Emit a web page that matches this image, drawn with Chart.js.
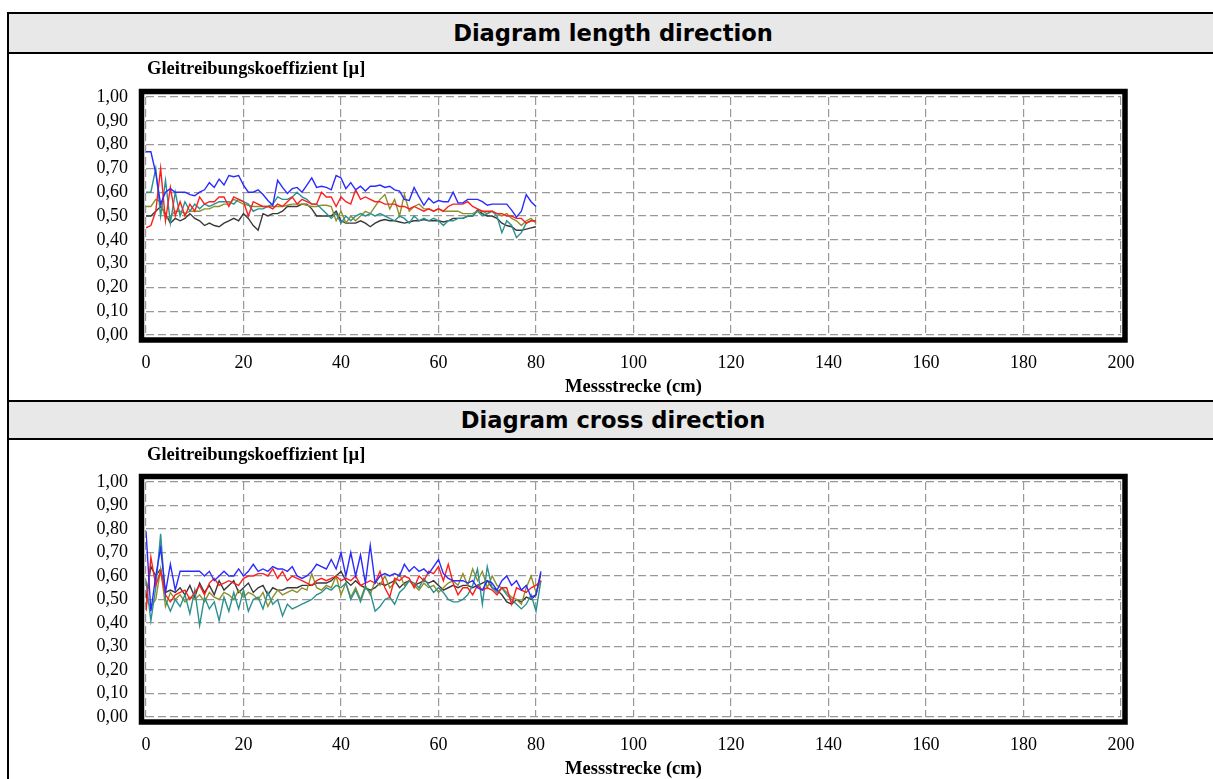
<!DOCTYPE html>
<html>
<head>
<meta charset="utf-8">
<script src="https://cdn.jsdelivr.net/npm/chart.js@4.4.0/dist/chart.umd.min.js"></script>
<style>
  body { margin: 0; width: 1213px; height: 779px; overflow: hidden; background: #fff; position: relative; }
  .kopf { position: absolute; left: 7px; width: 1240px; background: #e8e8e8; border: 2px solid #000; border-right: none; box-sizing: border-box;
          font-family: "DejaVu Sans", sans-serif; font-weight: bold; font-size: 22.6px; color: #000; }
  .kopf span { position: absolute; left: 0; top: 0; width: 1208px; text-align: center; }
  .seite { position: absolute; left: 7px; width: 0; border-left: 2px solid #000; }
  canvas { position: absolute; left: 9px; }
</style>
</head>
<body>

<div class="kopf" style="top:12px; height:42px;"><span style="line-height:38px;">Diagram length direction</span></div>
<div class="seite" style="top:54px; height:346px;"></div>
<canvas id="laenge" width="1204" height="346" style="top:54px;"></canvas>

<div class="kopf" style="top:400px; height:40px;"><span style="line-height:36px;">Diagram cross direction</span></div>
<div class="seite" style="top:440px; height:339px;"></div>
<canvas id="quer" width="1204" height="342" style="top:440px;"></canvas>

<script>
// ---- ACHSEN ----
const xTicks = [0, 20, 40, 60, 80, 100, 120, 140, 160, 180, 200]
const xTickLabels = ['0', '20', '40', '60', '80', '100', '120', '140', '160', '180', '200']
const yTicks = [0, 0.1, 0.2, 0.3, 0.4, 0.5, 0.6, 0.7, 0.8, 0.9, 1.0]
const yTickLabels = ['0,00', '0,10', '0,20', '0,30', '0,40', '0,50', '0,60', '0,70', '0,80', '0,90', '1,00']

// ---- MESSPUNKTE (cm) ----
const laengeX = [0,1,2,3,4,5,6,7,8,9,10,11,12,13,14,15,16,17,18,19,20,21,22,23,24,25,26,27,28,29,30,31,32,33,34,35,36,37,38,39,40,
  41,42,43,44,45,46,47,48,49,50,51,52,53,54,55,56,57,58,59,60,61,62,63,64,65,66,67,68,69,70,71,72,73,74,75,76,77,78,79,80]
const querX = [0,1,2,3,4,5,6,7,8,9,10,11,12,13,14,15,16,17,18,19,20,21,22,23,24,25,26,27,28,29,30,31,32,33,34,35,36,37,38,39,40,
  41,42,43,44,45,46,47,48,49,50,51,52,53,54,55,56,57,58,59,60,61,62,63,64,65,66,67,68,69,70,71,72,73,74,75,76,77,78,79,80,81]

// ---- LÄNGSRICHTUNG ----
const laengeBlau = [0.77,0.77,0.68,0.55,0.60,0.615,0.60,0.60,0.60,0.59,
  0.585,0.60,0.61,0.64,0.62,0.655,0.63,0.67,0.665,0.67,
  0.63,0.60,0.60,0.61,0.59,0.565,0.545,0.65,0.62,0.595,
  0.615,0.62,0.60,0.63,0.66,0.62,0.625,0.62,0.61,0.67,
  0.66,0.615,0.64,0.61,0.625,0.605,0.625,0.625,0.63,0.62,
  0.625,0.61,0.605,0.57,0.565,0.62,0.58,0.545,0.575,0.555,
  0.565,0.56,0.56,0.60,0.555,0.555,0.57,0.57,0.57,0.56,
  0.545,0.55,0.55,0.55,0.55,0.525,0.495,0.52,0.59,0.56,
  0.54]
const laengeRot = [0.45,0.46,0.52,0.70,0.48,0.62,0.50,0.56,0.50,0.55,
  0.52,0.58,0.55,0.56,0.56,0.58,0.58,0.54,0.58,0.57,
  0.56,0.50,0.56,0.55,0.54,0.54,0.53,0.55,0.54,0.56,
  0.58,0.55,0.57,0.56,0.55,0.55,0.60,0.58,0.58,0.54,
  0.58,0.56,0.55,0.61,0.57,0.58,0.57,0.56,0.56,0.55,
  0.55,0.55,0.54,0.54,0.53,0.54,0.53,0.52,0.53,0.52,
  0.53,0.52,0.54,0.55,0.55,0.55,0.56,0.54,0.53,0.52,
  0.52,0.52,0.51,0.51,0.50,0.50,0.49,0.49,0.47,0.48,
  0.48]
const laengeTuerkis = [0.60,0.60,0.70,0.50,0.65,0.47,0.60,0.50,0.56,0.52,
  0.55,0.53,0.55,0.54,0.55,0.56,0.56,0.56,0.55,0.57,
  0.56,0.55,0.52,0.53,0.53,0.54,0.55,0.58,0.57,0.57,
  0.58,0.60,0.58,0.57,0.55,0.55,0.53,0.51,0.49,0.51,
  0.47,0.50,0.48,0.50,0.51,0.50,0.51,0.50,0.51,0.50,
  0.49,0.48,0.50,0.49,0.47,0.50,0.48,0.49,0.48,0.49,
  0.48,0.46,0.48,0.48,0.49,0.49,0.50,0.50,0.52,0.50,
  0.51,0.52,0.50,0.43,0.48,0.46,0.41,0.43,0.47,0.48,
  0.48]
const laengeOliv = [0.54,0.54,0.57,0.56,0.49,0.50,0.52,0.52,0.51,0.52,
  0.52,0.52,0.53,0.53,0.54,0.54,0.55,0.55,0.57,0.56,
  0.55,0.545,0.54,0.54,0.54,0.54,0.54,0.54,0.54,0.545,
  0.55,0.55,0.55,0.545,0.54,0.54,0.545,0.545,0.54,0.48,
  0.52,0.47,0.50,0.48,0.50,0.52,0.51,0.54,0.57,0.59,
  0.53,0.57,0.50,0.59,0.52,0.54,0.55,0.53,0.53,0.52,
  0.53,0.52,0.52,0.52,0.52,0.51,0.51,0.51,0.52,0.52,
  0.51,0.52,0.51,0.50,0.51,0.49,0.48,0.46,0.48,0.49,
  0.47]
const laengeSchwarz = [0.50,0.50,0.52,0.54,0.51,0.47,0.49,0.48,0.49,0.51,
  0.49,0.48,0.46,0.47,0.46,0.455,0.47,0.48,0.49,0.48,
  0.51,0.49,0.46,0.44,0.51,0.50,0.51,0.51,0.52,0.54,
  0.54,0.54,0.55,0.55,0.53,0.50,0.50,0.50,0.50,0.52,
  0.48,0.47,0.47,0.47,0.48,0.47,0.455,0.47,0.48,0.485,
  0.48,0.48,0.475,0.47,0.475,0.48,0.48,0.485,0.48,0.48,
  0.48,0.475,0.48,0.49,0.49,0.49,0.50,0.50,0.525,0.51,
  0.50,0.50,0.49,0.47,0.46,0.455,0.44,0.44,0.445,0.45,
  0.455]

// ---- QUERRICHTUNG ----
const querBlau = [0.79,0.45,0.60,0.72,0.53,0.65,0.54,0.62,0.62,0.62,
  0.62,0.62,0.60,0.62,0.58,0.60,0.62,0.60,0.60,0.63,
  0.60,0.62,0.65,0.62,0.63,0.62,0.64,0.63,0.63,0.62,
  0.64,0.60,0.59,0.60,0.62,0.65,0.64,0.63,0.67,0.63,
  0.70,0.60,0.70,0.60,0.69,0.57,0.73,0.57,0.60,0.61,
  0.60,0.61,0.60,0.65,0.62,0.64,0.62,0.63,0.61,0.64,
  0.67,0.61,0.59,0.58,0.58,0.58,0.57,0.58,0.55,0.54,
  0.58,0.57,0.54,0.58,0.60,0.56,0.58,0.54,0.56,0.51,
  0.52,0.62]
const querRot = [0.45,0.68,0.56,0.62,0.52,0.49,0.52,0.53,0.54,0.50,
  0.53,0.56,0.52,0.57,0.59,0.56,0.57,0.58,0.57,0.56,
  0.59,0.60,0.60,0.61,0.61,0.60,0.63,0.59,0.62,0.58,
  0.60,0.59,0.58,0.57,0.56,0.58,0.59,0.58,0.59,0.60,
  0.58,0.59,0.58,0.60,0.56,0.57,0.58,0.57,0.62,0.55,
  0.51,0.59,0.58,0.60,0.59,0.55,0.60,0.58,0.62,0.61,
  0.64,0.58,0.65,0.57,0.52,0.55,0.55,0.52,0.56,0.54,
  0.55,0.54,0.52,0.55,0.55,0.48,0.55,0.54,0.53,0.55,
  0.56,0.58]
const querTuerkis = [0.58,0.41,0.55,0.78,0.50,0.45,0.50,0.47,0.52,0.44,
  0.54,0.39,0.51,0.46,0.49,0.41,0.51,0.45,0.53,0.46,
  0.54,0.45,0.50,0.51,0.46,0.53,0.48,0.50,0.43,0.48,
  0.46,0.47,0.48,0.49,0.50,0.52,0.53,0.55,0.54,0.56,
  0.55,0.57,0.50,0.54,0.49,0.55,0.53,0.45,0.47,0.50,
  0.51,0.48,0.53,0.55,0.58,0.57,0.55,0.59,0.56,0.53,
  0.55,0.53,0.50,0.49,0.49,0.50,0.52,0.56,0.63,0.48,
  0.64,0.55,0.53,0.55,0.52,0.50,0.48,0.46,0.48,0.52,
  0.45,0.58]
const querOliv = [0.50,0.47,0.50,0.63,0.47,0.53,0.50,0.52,0.49,0.51,
  0.50,0.52,0.49,0.53,0.51,0.50,0.53,0.52,0.50,0.54,
  0.51,0.53,0.52,0.50,0.53,0.47,0.51,0.54,0.52,0.53,
  0.54,0.53,0.55,0.54,0.61,0.55,0.54,0.56,0.55,0.60,
  0.52,0.57,0.51,0.55,0.50,0.56,0.52,0.58,0.56,0.60,
  0.55,0.57,0.61,0.56,0.58,0.56,0.54,0.57,0.55,0.56,
  0.53,0.55,0.57,0.58,0.56,0.61,0.56,0.63,0.58,0.62,
  0.55,0.60,0.56,0.55,0.53,0.51,0.50,0.48,0.55,0.60,
  0.53,0.58]
const querSchwarz = [0.50,0.64,0.60,0.63,0.53,0.54,0.53,0.55,0.52,0.56,
  0.51,0.57,0.53,0.56,0.52,0.58,0.54,0.56,0.58,0.53,
  0.55,0.57,0.53,0.55,0.56,0.52,0.55,0.54,0.54,0.55,
  0.55,0.55,0.56,0.56,0.56,0.57,0.57,0.57,0.58,0.60,
  0.62,0.58,0.56,0.58,0.56,0.55,0.54,0.55,0.57,0.56,
  0.57,0.58,0.55,0.57,0.58,0.56,0.57,0.58,0.57,0.58,
  0.56,0.54,0.55,0.56,0.55,0.56,0.56,0.55,0.56,0.57,
  0.58,0.55,0.54,0.52,0.49,0.48,0.50,0.49,0.51,0.50,
  0.52,0.61]

const farben = ['#2b2bff', '#ff1e1e', '#2b9090', '#8f8f2a', '#383838']

// ---- RAHMEN UND ACHSENTITEL ----
const rahmen = {
  id: 'rahmen',
  afterDraw(chart, args, opts) {
    const a = chart.chartArea
    const ctx = chart.ctx
    ctx.save()
    ctx.strokeStyle = '#000'
    ctx.lineWidth = 5.5
    ctx.strokeRect(a.left - 4.5, a.top - 5.5, a.right - a.left + 8.5, a.bottom - a.top + 10.5)
    ctx.font = 'bold 18.5px "Liberation Serif"'
    ctx.fillStyle = '#000'
    ctx.textBaseline = 'middle'
    ctx.fillText(opts.text, a.left + 1, opts.y)
    ctx.restore()
  }
}

function baueDiagramm(id, xWerte, reihen, oben) {
  const datasets = reihen.map((werte, i) => ({
    data: xWerte.map((x, j) => ({ x: x, y: werte[j] })),
    borderColor: farben[i],
    borderWidth: 1.4,
    pointRadius: 0,
    tension: 0,
    fill: false
  }))
  const tickFont = { family: '"Liberation Serif"', size: 18 }
  return new Chart(document.getElementById(id), {
    type: 'line',
    data: { datasets: datasets },
    options: {
      responsive: false,
      animation: false,
      layout: { padding: { left: 0, top: oben, right: 92, bottom: 2 } },
      plugins: {
        legend: { display: false },
        tooltip: { enabled: false },
        rahmen: { text: 'Gleitreibungskoeffizient [µ]', y: 15 }
      },
      scales: {
        x: {
          type: 'linear', min: 0, max: 200,
          afterBuildTicks: s => { s.ticks = xTicks.map(v => ({ value: v })) },
          afterFit: s => { s.height = 63 },
          ticks: { callback: (v, i) => xTickLabels[i], padding: 17, font: tickFont, color: '#000', maxRotation: 0, autoSkip: false },
          grid: { color: '#999999', lineWidth: 1.2, drawTicks: false },
          border: { display: false, dash: [8, 4] },
          title: { display: true, text: 'Messstrecke (cm)', color: '#000', padding: { top: 0, bottom: 0 },
                   font: { family: '"Liberation Serif"', size: 18.5, weight: 'bold' } }
        },
        y: {
          min: 0, max: 1,
          afterBuildTicks: s => { s.ticks = yTicks.map(v => ({ value: v })) },
          afterFit: s => { s.width = 137 },
          ticks: { callback: (v, i) => yTickLabels[i], padding: 18, font: tickFont, color: '#000', autoSkip: false },
          grid: { color: '#999999', lineWidth: 1.2, drawTicks: false },
          border: { display: false, dash: [8, 4] }
        }
      }
    },
    plugins: [rahmen]
  })
}

baueDiagramm('laenge', laengeX, [laengeBlau, laengeRot, laengeTuerkis, laengeOliv, laengeSchwarz], 43)
baueDiagramm('quer', querX, [querBlau, querRot, querTuerkis, querOliv, querSchwarz], 42)
</script>
</body>
</html>
